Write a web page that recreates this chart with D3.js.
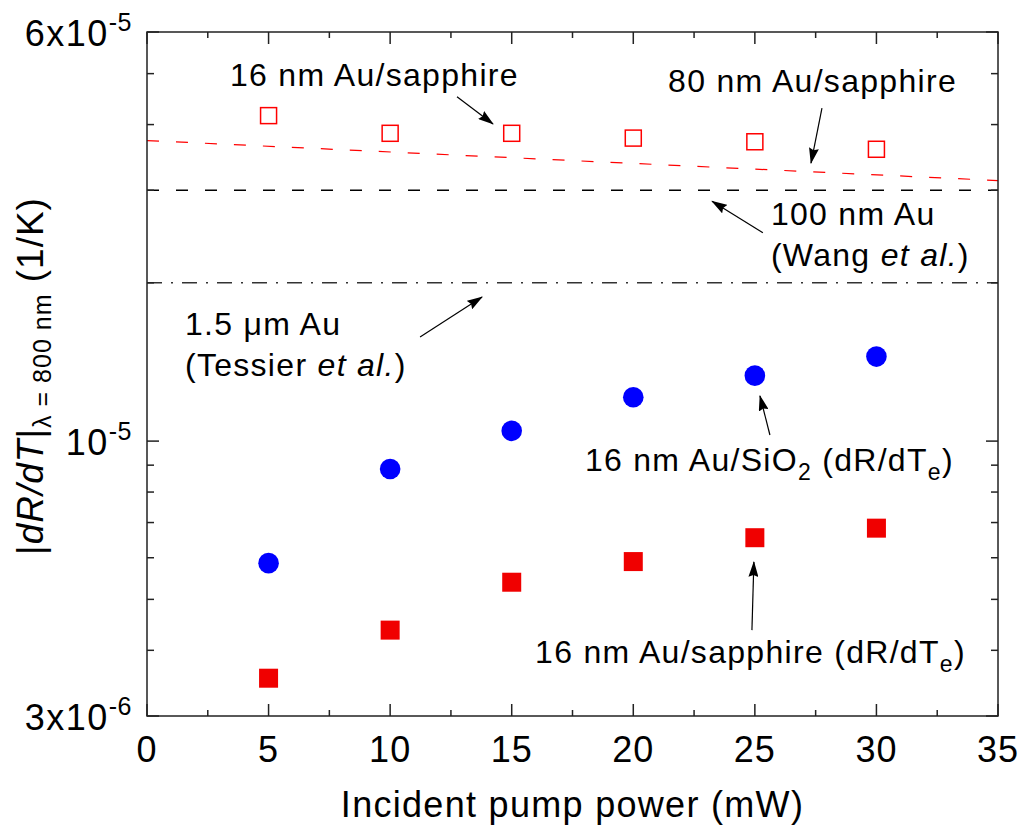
<!DOCTYPE html>
<html><head><meta charset="utf-8">
<script src="https://cdn.jsdelivr.net/npm/d3@7"></script>
<style>
body{margin:0;background:#fff}
svg{display:block}
text{font-family:"Liberation Sans",Arial,Helvetica,sans-serif;fill:#000}
</style>
</head><body>
<svg id="chart" width="1021" height="832"></svg>
<script>
// ---------- data ----------
const power = [5, 10, 15, 20, 25, 30];                 // mW
const sapphire16 = [4.16e-5, 3.85e-5, 3.85e-5, 3.77e-5, 3.71e-5, 3.59e-5]; // open squares
const sio2Te = [5.86e-6, 8.85e-6, 1.046e-5, 1.212e-5, 1.332e-5, 1.448e-5]; // blue circles
const sapphireTe = [3.54e-6, 4.37e-6, 5.39e-6, 5.90e-6, 6.55e-6, 6.83e-6]; // red filled squares
const au80X = [0, 35];
const au80Y = [3.73e-5, 3.13e-5];                       // 80 nm Au/sapphire (red dashed)
const wang100 = 3.0e-5;                                 // 100 nm Au (Wang et al.)
const tessier15 = 2.0e-5;                               // 1.5 um Au (Tessier et al.)
const xMajorTicks = [0, 5, 10, 15, 20, 25, 30, 35];
const xMinorTicks = [2.5, 7.5, 12.5, 17.5, 22.5, 27.5, 32.5];
const yMajorTicks = [3e-6, 1e-5, 6e-5];
const yTickLabels = [["3x10", "-6"], ["10", "-5"], ["6x10", "-5"]];
const yMinorTicks = [4e-6, 5e-6, 6e-6, 7e-6, 8e-6, 9e-6, 2e-5, 3e-5, 4e-5, 5e-5];

// annotations in data coordinates
const arrows = [
  {from: [12.75, 4.52e-5], to: [14.23, 4.01e-5]},
  {from: [27.76, 4.30e-5], to: [27.31, 3.38e-5]},
  {from: [25.33, 2.49e-5], to: [23.24, 2.86e-5]},
  {from: [11.23, 1.578e-5], to: [13.78, 1.88e-5]},
  {from: [25.62, 1.027e-5], to: [25.21, 1.219e-5]},
  {from: [24.88, 4.37e-6], to: [24.96, 5.89e-6]}
];

// ---------- layout ----------
const svg = d3.select("#chart");
const L = 147, R = 998, T = 32, B = 716;
const x = d3.scaleLinear().domain([0, 35]).range([L, R]);
const y = d3.scaleLog().domain([3e-6, 6e-5]).range([B, T]);
const axisColor = "#222";

// defs: arrow head
svg.append("defs").append("marker")
  .attr("id", "ah").attr("markerUnits", "userSpaceOnUse")
  .attr("markerWidth", 16).attr("markerHeight", 10)
  .attr("refX", 15).attr("refY", 5).attr("orient", "auto")
  .append("path").attr("d", "M0,0 L16,5 L0,10 L2,5 z").attr("fill", "#000");

// ---------- reference lines ----------
svg.append("line")
  .attr("x1", x(au80X[0])).attr("y1", y(au80Y[0]))
  .attr("x2", x(au80X[1])).attr("y2", y(au80Y[1]))
  .attr("stroke", "#ff0000").attr("stroke-width", 1.2).attr("stroke-dasharray", "12,17");
svg.append("line")
  .attr("x1", x(0)).attr("x2", x(35)).attr("y1", y(wang100)).attr("y2", y(wang100))
  .attr("stroke", "#000").attr("stroke-width", 1.3).attr("stroke-dasharray", "12,17");
svg.append("line")
  .attr("x1", x(0)).attr("x2", x(35)).attr("y1", y(tessier15)).attr("y2", y(tessier15))
  .attr("stroke", "#333").attr("stroke-width", 1.5).attr("stroke-dasharray", "15,9,2,9");

// ---------- frame & ticks ----------
const g = svg.append("g").attr("stroke", axisColor).attr("stroke-width", 1.5);
g.append("rect").attr("x", L).attr("y", T).attr("width", R - L).attr("height", B - T)
  .attr("fill", "none");
function xt(vals, len) {
  vals.forEach(v => {
    g.append("line").attr("x1", x(v)).attr("x2", x(v)).attr("y1", B).attr("y2", B - len);
    g.append("line").attr("x1", x(v)).attr("x2", x(v)).attr("y1", T).attr("y2", T + len);
  });
}
function yt(vals, len) {
  vals.forEach(v => {
    g.append("line").attr("y1", y(v)).attr("y2", y(v)).attr("x1", L).attr("x2", L + len);
    g.append("line").attr("y1", y(v)).attr("y2", y(v)).attr("x1", R).attr("x2", R - len);
  });
}
xt(xMajorTicks, 12); xt(xMinorTicks, 6);
yt(yMajorTicks, 12); yt(yMinorTicks, 7);

// tick labels
svg.append("g").selectAll("text").data(xMajorTicks).join("text")
  .attr("x", d => x(d)).attr("y", 762).attr("text-anchor", "middle")
  .attr("font-size", 36).attr("letter-spacing", 1).text(d => d);

yMajorTicks.forEach((v, i) => {
  const t = svg.append("text").attr("x", 132).attr("y", y(v) + 14)
    .attr("text-anchor", "end").attr("font-size", 36).attr("letter-spacing", 1.5);
  t.append("tspan").text(yTickLabels[i][0]);
  t.append("tspan").attr("font-size", 25).attr("dy", -15).attr("letter-spacing", 0.5).text(yTickLabels[i][1]);
});

// axis titles
svg.append("text").attr("x", (L + R) / 2).attr("y", 817).attr("text-anchor", "middle")
  .attr("font-size", 36).attr("letter-spacing", 1.3).text("Incident pump power (mW)");

const yt0 = svg.append("text").attr("transform", "translate(43,376) rotate(-90)")
  .attr("text-anchor", "middle").attr("font-size", 37).attr("letter-spacing", 1);
yt0.append("tspan").text("|");
yt0.append("tspan").attr("font-style", "italic").text("dR/dT");
yt0.append("tspan").text("|");
yt0.append("tspan").attr("font-size", 25).attr("dy", 8).text("λ = 800 nm");
yt0.append("tspan").attr("dy", -8).text(" (1/K)");

// ---------- data marks ----------
svg.append("g").selectAll("rect").data(power).join("rect")
  .attr("x", (d, i) => x(d) - 8).attr("y", (d, i) => y(sapphire16[i]) - 8)
  .attr("width", 16).attr("height", 16)
  .attr("fill", "none").attr("stroke", "#ff0000").attr("stroke-width", 1.5);

svg.append("g").selectAll("circle").data(power).join("circle")
  .attr("cx", d => x(d)).attr("cy", (d, i) => y(sio2Te[i])).attr("r", 10.3)
  .attr("fill", "#0000ff");

svg.append("g").selectAll("rect").data(power).join("rect")
  .attr("x", d => x(d) - 9.5).attr("y", (d, i) => y(sapphireTe[i]) - 9.5)
  .attr("width", 19).attr("height", 19).attr("fill", "#f00000");

// ---------- annotations ----------
svg.append("g").selectAll("line").data(arrows).join("line")
  .attr("x1", d => x(d.from[0])).attr("y1", d => y(d.from[1]))
  .attr("x2", d => x(d.to[0])).attr("y2", d => y(d.to[1]))
  .attr("stroke", "#000").attr("stroke-width", 1.2).attr("marker-end", "url(#ah)");

function label(px, pv, parts, dyLine) {
  const t = svg.append("text").attr("x", x(px)).attr("y", y(pv) + (dyLine || 0))
    .attr("font-size", 32).attr("letter-spacing", 1.3);
  parts.forEach(p => {
    const s = t.append("tspan").text(p.t);
    if (p.i) s.attr("font-style", "italic");
    if (p.sub) s.attr("font-size", 23).attr("dy", 9);
    if (p.back) s.attr("dy", -9);
  });
}
label(3.41, 4.74e-5, [{t: "16 nm Au/sapphire"}]);
label(21.43, 4.61e-5, [{t: "80 nm Au/sapphire"}]);
label(25.66, 2.58e-5, [{t: "100 nm Au"}]);
label(25.66, 2.58e-5, [{t: "(Wang "}, {t: "et al.", i: true}, {t: ")"}], 41);
label(1.56, 1.59e-5, [{t: "1.5 μm Au"}]);
label(1.56, 1.59e-5, [{t: "(Tessier "}, {t: "et al.", i: true}, {t: ")"}], 41);
label(18.01, 8.77e-6, [{t: "16 nm Au/SiO"}, {t: "2", sub: true}, {t: " (dR/dT", back: true}, {t: "e", sub: true}, {t: ")", back: true}]);
label(15.96, 3.78e-6, [{t: "16 nm Au/sapphire (dR/dT"}, {t: "e", sub: true}, {t: ")", back: true}]);
</script>
</body></html>
